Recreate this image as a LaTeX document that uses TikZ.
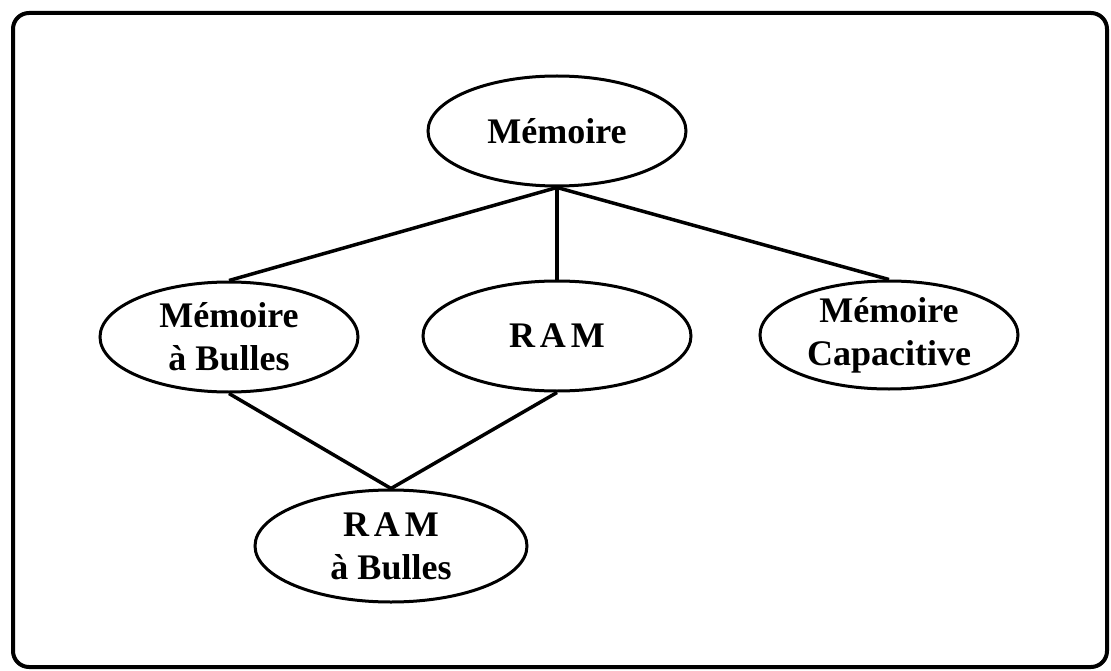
\documentclass[tikz,border=0pt]{standalone}
\usepackage{fontspec}
\setmainfont{Liberation Serif}
\usetikzlibrary{shapes.geometric}
\begin{document}
\begin{tikzpicture}[x=1pt,y=-1pt,
  conceptnode/.style={draw=black, ellipse, line width=3pt, inner sep=0pt,
    align=center, font=\fontsize{36}{43}\selectfont\bfseries},
  link/.style={draw=black, line width=3.5pt},
  frame/.style={draw=black, line width=4pt, rounded corners=16pt}]
  \useasboundingbox[fill=white] (0,0) rectangle (1111,671);
  \draw[frame] (13,13) rectangle (1107,667);

  % concept nodes
  \node[conceptnode, minimum width=258pt, minimum height=110pt] (mem) at (557,131) {Mémoire};
  \node[conceptnode, minimum width=258pt, minimum height=110pt] (mb) at (229,337) {Mémoire\\à Bulles};
  \node[conceptnode, minimum width=268pt, minimum height=110pt] (ram) at (557,336) {R\kern5pt A\kern5pt M};
  \node[conceptnode, minimum width=258pt, minimum height=108pt] (cap) at (889,335) {Mémoire\\Capacitive};
  \node[conceptnode, minimum width=272pt, minimum height=112pt] (rab) at (391,546) {R\kern5pt A\kern5pt M\\à Bulles};

  % hierarchy links
  \draw[link] (mem.south) -- (mb.north);
  \draw[link] (mem.south) -- (ram.north);
  \draw[link] (mem.south) -- (cap.north);
  \draw[link] (mb.south) -- (rab.north);
  \draw[link] (ram.south) -- (rab.north);
\end{tikzpicture}
\end{document}
